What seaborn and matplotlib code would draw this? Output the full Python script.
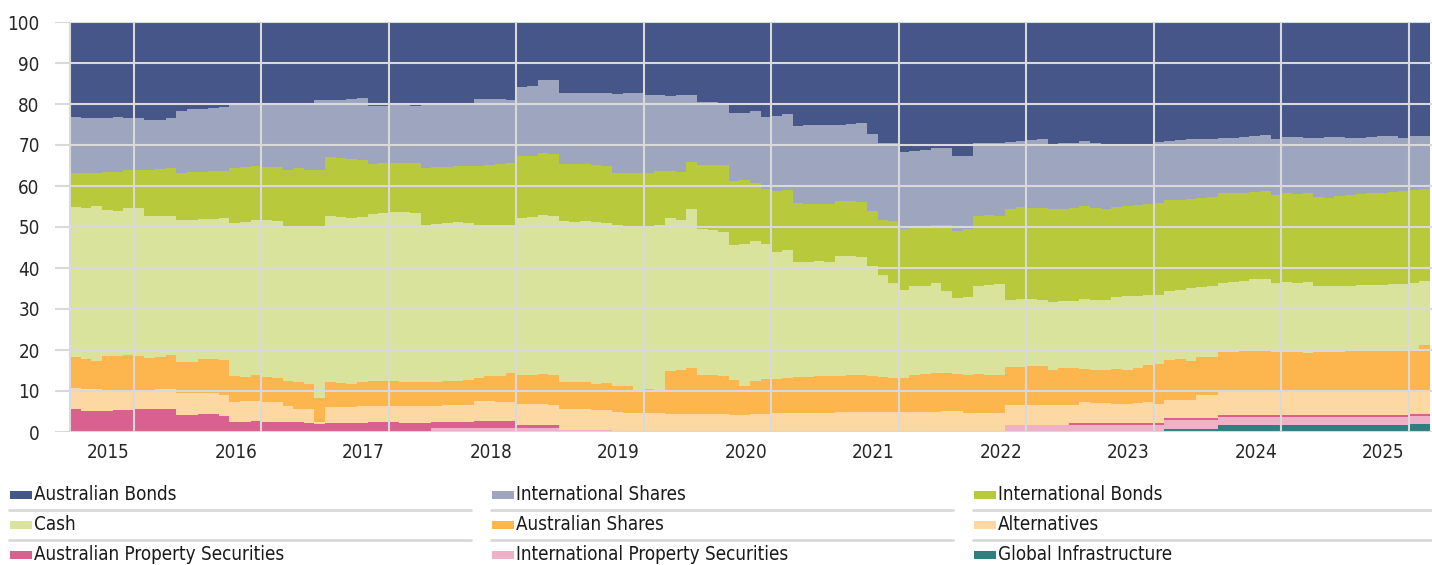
import numpy as np
import pandas as pd
import matplotlib.pyplot as plt
import seaborn as sns
from matplotlib.patches import Rectangle
from matplotlib.lines import Line2D
from matplotlib import font_manager

# Asset classes, top of the stack first (same order as the legend)
assets = [
    "Australian Bonds", "International Shares", "International Bonds",
    "Cash", "Australian Shares", "Alternatives",
    "Australian Property Securities", "International Property Securities",
    "Global Infrastructure",
]
colours = ["#465688", "#9ea5bf", "#b8ca3b", "#d9e39c", "#fdb54e",
           "#fdd8a2", "#da6090", "#eeb1c8", "#307f80"]
years = ["2015", "2016", "2017", "2018", "2019", "2020",
         "2021", "2022", "2023", "2024", "2025"]

# Monthly allocations (%), Jan 2015 onwards
aus_bonds = [
    23.1, 23.4, 23.5, 23.4, 23.2, 23.3, 23.5, 24.0, 23.9, 23.4,
    21.6, 21.3, 21.2, 20.9, 20.7, 20.3, 20.2, 20.1, 20.2, 20.2,
    20.2, 20.2, 20.1, 19.0, 19.1, 19.0, 18.9, 18.6, 20.5, 20.5,
    20.3, 20.2, 20.5, 20.2, 20.3, 20.3, 20.3, 19.7, 18.7, 18.9,
    18.9, 19.0, 15.8, 15.6, 14.2, 14.2, 17.4, 17.4, 17.2, 17.2,
    17.2, 17.5, 17.4, 17.4, 17.7, 17.9, 18.1, 17.9, 17.8, 19.4,
    19.4, 19.7, 22.1, 22.3, 21.6, 23.1, 22.9, 22.5, 25.4, 25.2,
    25.1, 25.2, 25.1, 24.9, 24.7, 27.4, 29.6, 29.6, 31.7, 31.5,
    31.1, 30.8, 30.7, 32.7, 32.7, 29.6, 29.6, 29.5, 29.3, 29.0,
    28.9, 28.6, 29.7, 29.6, 29.5, 29.1, 29.6, 29.7, 29.7, 29.7,
    29.7, 29.7, 29.3, 29.1, 28.8, 28.6, 28.6, 28.6, 28.2, 28.2,
    28.1, 27.7, 27.6, 28.6, 28.1, 28.1, 28.2, 28.2, 28.1, 28.0,
    28.2, 28.2, 28.1, 27.8, 27.7, 28.2, 27.8, 27.7,
]
intl_shares = [
    13.7, 13.5, 13.3, 13.2, 13.4, 12.8, 12.5, 12.0, 11.9, 12.2,
    15.3, 15.3, 15.4, 15.5, 15.6, 15.3, 15.2, 15.1, 15.1, 15.2,
    15.8, 15.5, 16.0, 17.0, 13.9, 14.2, 14.5, 15.1, 14.2, 13.8,
    14.0, 14.1, 14.0, 15.4, 15.1, 15.0, 14.9, 15.5, 16.3, 15.9,
    15.7, 15.3, 16.9, 17.1, 17.7, 18.1, 17.2, 17.2, 17.4, 17.7,
    18.0, 19.3, 19.5, 19.4, 19.1, 18.5, 18.3, 18.7, 16.3, 15.5,
    15.5, 15.2, 16.7, 16.3, 17.6, 17.7, 18.2, 18.5, 18.7, 19.1,
    19.2, 19.3, 18.6, 18.8, 19.2, 18.7, 18.8, 19.0, 18.7, 18.7,
    18.9, 18.8, 18.7, 18.2, 17.9, 17.8, 17.4, 17.9, 16.3, 16.2,
    16.4, 16.8, 16.0, 15.9, 15.8, 15.8, 15.8, 16.0, 15.4, 15.1,
    15.0, 14.6, 14.8, 14.2, 14.6, 14.5, 14.3, 14.2, 13.6, 13.5,
    13.6, 13.8, 13.7, 13.5, 13.7, 13.8, 13.5, 14.5, 14.9, 14.5,
    13.9, 13.7, 13.6, 13.9, 13.7, 13.1, 13.2, 13.0,
]
intl_bonds = [
    8.4, 8.4, 8.1, 9.3, 9.4, 9.2, 9.3, 11.4, 11.6, 11.6,
    11.4, 11.6, 11.4, 11.6, 11.5, 13.4, 13.3, 13.2, 13.0, 13.1,
    14.3, 14.3, 14.1, 13.8, 14.4, 14.3, 14.3, 13.8, 12.1, 12.2,
    12.1, 12.1, 12.0, 13.8, 13.8, 13.8, 13.6, 13.8, 14.6, 14.8,
    15.0, 15.3, 15.1, 14.9, 15.1, 15.1, 14.0, 14.2, 14.0, 13.9,
    13.8, 12.8, 12.9, 13.0, 13.0, 13.2, 11.5, 11.7, 11.6, 15.7,
    15.9, 16.4, 15.6, 15.5, 14.3, 13.3, 15.0, 14.7, 14.5, 14.2,
    14.1, 14.1, 13.4, 13.4, 13.3, 13.3, 13.4, 15.0, 15.0, 14.2,
    14.3, 14.0, 16.3, 16.4, 16.4, 17.0, 17.2, 16.6, 22.1, 22.3,
    22.3, 22.3, 22.6, 22.6, 22.7, 22.7, 22.5, 22.2, 22.0, 22.1,
    22.2, 22.4, 22.4, 22.2, 21.9, 21.7, 21.7, 21.6, 21.8, 21.8,
    21.5, 21.3, 21.4, 21.5, 21.7, 21.7, 21.7, 21.7, 21.4, 21.9,
    22.3, 22.3, 22.4, 22.4, 22.6, 22.5, 22.6, 22.5,
]
cash = [
    36.6, 37.0, 37.9, 35.6, 35.5, 36.0, 36.2, 34.5, 34.4, 34.1,
    34.6, 34.7, 34.3, 34.3, 34.7, 37.4, 37.9, 37.8, 38.4, 38.3,
    37.3, 37.9, 38.2, 41.9, 40.5, 40.5, 40.5, 40.4, 40.8, 41.0,
    41.2, 41.3, 41.3, 38.4, 38.5, 38.5, 38.7, 38.2, 37.2, 36.8,
    36.8, 36.0, 38.4, 38.6, 38.8, 38.8, 39.3, 38.9, 39.1, 39.4,
    39.0, 39.3, 38.9, 39.9, 39.6, 40.1, 37.1, 36.5, 38.8, 35.4,
    35.4, 35.1, 32.8, 34.8, 34.1, 33.0, 30.9, 31.1, 28.1, 28.1,
    28.0, 27.8, 29.3, 29.1, 29.0, 27.0, 24.9, 23.2, 21.4, 21.8,
    21.5, 22.0, 19.9, 18.5, 19.0, 21.4, 22.0, 22.0, 16.4, 16.6,
    16.2, 16.1, 16.5, 16.3, 16.5, 17.0, 16.9, 16.9, 17.5, 17.9,
    17.5, 16.9, 16.8, 17.0, 16.9, 18.0, 17.1, 17.3, 17.0, 17.0,
    17.1, 17.4, 17.4, 16.8, 16.9, 16.9, 17.3, 16.1, 16.1, 16.0,
    15.9, 16.1, 16.2, 16.1, 16.2, 16.4, 16.6, 15.6,
]
aus_shares = [
    7.5, 7.1, 6.6, 8.2, 8.2, 8.4, 8.2, 7.8, 7.8, 8.2,
    7.6, 7.7, 8.3, 8.3, 8.4, 6.3, 5.9, 6.3, 6.1, 6.0,
    6.1, 6.4, 6.1, 5.9, 6.0, 5.9, 5.6, 5.8, 6.0, 6.1,
    6.0, 5.9, 5.8, 5.8, 5.9, 5.9, 6.0, 6.1, 5.7, 6.1,
    6.2, 7.1, 6.9, 6.9, 7.3, 7.1, 6.5, 6.7, 6.8, 6.4,
    6.7, 6.3, 6.6, 5.6, 6.0, 5.7, 10.5, 10.7, 11.0, 9.6,
    9.4, 9.2, 8.6, 6.9, 8.0, 8.5, 8.4, 8.6, 8.7, 8.7,
    8.9, 8.9, 8.8, 9.0, 9.0, 8.8, 8.4, 8.3, 8.3, 8.8,
    9.2, 9.4, 9.2, 9.1, 9.4, 9.6, 9.2, 9.4, 9.2, 9.2,
    9.5, 9.6, 8.7, 9.1, 9.0, 8.2, 8.2, 8.2, 8.5, 8.3,
    8.6, 9.2, 9.8, 9.6, 9.9, 9.3, 9.3, 9.3, 9.7, 9.8,
    9.9, 10.0, 10.1, 9.9, 9.9, 9.8, 9.6, 9.8, 9.8, 9.9,
    10.0, 10.0, 10.0, 10.0, 10.0, 10.0, 9.9, 11.3,
]
alternatives = [
    5.2, 5.4, 5.4, 5.1, 5.0, 4.9, 4.8, 4.8, 4.8, 4.9,
    5.4, 5.2, 4.9, 5.0, 5.1, 4.9, 5.1, 4.9, 4.8, 4.8,
    3.9, 3.3, 3.2, 0.4, 4.0, 4.0, 4.0, 4.0, 3.9, 4.0,
    4.0, 4.1, 4.1, 4.2, 3.9, 4.0, 4.0, 4.2, 4.9, 4.9,
    4.8, 4.7, 5.1, 5.1, 5.1, 4.9, 5.1, 5.1, 5.0, 4.9,
    4.8, 4.8, 4.7, 4.7, 4.6, 4.6, 4.5, 4.5, 4.5, 4.4,
    4.4, 4.4, 4.2, 4.2, 4.4, 4.4, 4.6, 4.6, 4.6, 4.7,
    4.7, 4.7, 4.8, 4.8, 4.8, 4.8, 4.9, 4.9, 4.9, 5.0,
    5.0, 5.0, 5.2, 5.1, 4.6, 4.6, 4.6, 4.6, 5.0, 5.0,
    5.0, 4.9, 4.8, 4.8, 4.3, 5.0, 4.8, 4.8, 4.7, 4.7,
    4.8, 5.0, 4.7, 4.5, 4.5, 4.5, 5.6, 5.6, 5.5, 5.5,
    5.6, 5.6, 5.6, 5.5, 5.5, 5.5, 5.5, 5.5, 5.5, 5.5,
    5.5, 5.5, 5.5, 5.6, 5.6, 5.6, 5.6, 5.6,
]
aus_property = [
    5.5, 5.2, 5.2, 5.2, 5.3, 5.4, 5.5, 5.5, 5.6, 5.6,
    4.1, 4.2, 4.5, 4.4, 4.0, 2.4, 2.4, 2.6, 2.4, 2.4,
    2.4, 2.4, 2.3, 2.0, 2.1, 2.1, 2.2, 2.3, 2.5, 2.4,
    2.4, 2.3, 2.3, 2.2, 1.5, 1.5, 1.5, 1.5, 1.6, 1.6,
    1.6, 1.6, 0.8, 0.8, 0.8, 0.8, 0.0, 0.0, 0.0, 0.0,
    0.0, 0.0, 0.0, 0.0, 0.0, 0.0, 0.0, 0.0, 0.0, 0.0,
    0.0, 0.0, 0.0, 0.0, 0.0, 0.0, 0.0, 0.0, 0.0, 0.0,
    0.0, 0.0, 0.0, 0.0, 0.0, 0.0, 0.0, 0.0, 0.0, 0.0,
    0.0, 0.0, 0.0, 0.0, 0.0, 0.0, 0.0, 0.0, 0.0, 0.0,
    0.0, 0.0, 0.0, 0.0, 0.5, 0.5, 0.5, 0.5, 0.5, 0.5,
    0.5, 0.5, 0.5, 0.4, 0.4, 0.4, 0.4, 0.4, 0.5, 0.5,
    0.5, 0.5, 0.5, 0.5, 0.5, 0.5, 0.5, 0.5, 0.5, 0.5,
    0.5, 0.5, 0.5, 0.5, 0.5, 0.5, 0.5, 0.5,
]
intl_property = [
    0.0, 0.0, 0.0, 0.0, 0.0, 0.0, 0.0, 0.0, 0.0, 0.0,
    0.0, 0.0, 0.0, 0.0, 0.0, 0.0, 0.0, 0.0, 0.0, 0.0,
    0.0, 0.0, 0.0, 0.0, 0.0, 0.0, 0.0, 0.0, 0.0, 0.0,
    0.0, 0.0, 0.0, 0.0, 1.0, 1.0, 1.0, 1.0, 1.0, 1.0,
    1.0, 1.0, 1.0, 1.0, 1.0, 1.0, 0.5, 0.5, 0.5, 0.5,
    0.5, 0.0, 0.0, 0.0, 0.0, 0.0, 0.0, 0.0, 0.0, 0.0,
    0.0, 0.0, 0.0, 0.0, 0.0, 0.0, 0.0, 0.0, 0.0, 0.0,
    0.0, 0.0, 0.0, 0.0, 0.0, 0.0, 0.0, 0.0, 0.0, 0.0,
    0.0, 0.0, 0.0, 0.0, 0.0, 0.0, 0.0, 0.0, 1.7, 1.7,
    1.7, 1.7, 1.7, 1.7, 1.7, 1.7, 1.7, 1.7, 1.7, 1.7,
    1.7, 1.7, 1.7, 2.2, 2.2, 2.2, 2.2, 2.2, 1.9, 1.9,
    1.9, 1.9, 1.9, 1.9, 1.9, 1.9, 1.9, 1.9, 1.9, 1.9,
    1.9, 1.9, 1.9, 1.9, 1.9, 1.9, 1.8, 1.8,
]
global_infra = [
    0.0, 0.0, 0.0, 0.0, 0.0, 0.0, 0.0, 0.0, 0.0, 0.0,
    0.0, 0.0, 0.0, 0.0, 0.0, 0.0, 0.0, 0.0, 0.0, 0.0,
    0.0, 0.0, 0.0, 0.0, 0.0, 0.0, 0.0, 0.0, 0.0, 0.0,
    0.0, 0.0, 0.0, 0.0, 0.0, 0.0, 0.0, 0.0, 0.0, 0.0,
    0.0, 0.0, 0.0, 0.0, 0.0, 0.0, 0.0, 0.0, 0.0, 0.0,
    0.0, 0.0, 0.0, 0.0, 0.0, 0.0, 0.0, 0.0, 0.0, 0.0,
    0.0, 0.0, 0.0, 0.0, 0.0, 0.0, 0.0, 0.0, 0.0, 0.0,
    0.0, 0.0, 0.0, 0.0, 0.0, 0.0, 0.0, 0.0, 0.0, 0.0,
    0.0, 0.0, 0.0, 0.0, 0.0, 0.0, 0.0, 0.0, 0.0, 0.0,
    0.0, 0.0, 0.0, 0.0, 0.0, 0.0, 0.0, 0.0, 0.0, 0.0,
    0.0, 0.0, 0.0, 0.8, 0.8, 0.8, 0.8, 0.8, 1.8, 1.8,
    1.8, 1.8, 1.8, 1.8, 1.8, 1.8, 1.8, 1.8, 1.8, 1.8,
    1.8, 1.8, 1.8, 1.8, 1.8, 1.8, 2.0, 2.0,
]

series = [aus_bonds, intl_shares, intl_bonds, cash, aus_shares,
          alternatives, aus_property, intl_property, global_infra]

W, H = 1432, 565
GRID = "#d9d9d9"

frames = []
for name, vals in zip(assets, series):
    frames.append(pd.DataFrame({"month": np.arange(len(vals)),
                                "asset": name, "weight": vals}))
df = pd.concat(frames, ignore_index=True)

sns.set_style("white")

# a condensed face is closest to the original; take one if it is installed
names = {f.name for f in font_manager.fontManager.ttflist}
narrow = [f for f in font_manager.fontManager.ttflist
          if f.stretch in ("condensed", "semi-condensed", 600, 500)]
if "Liberation Sans Narrow" in names:
    plt.rcParams["font.family"] = ["Liberation Sans Narrow", "DejaVu Sans"]
    fsize = 14.5
elif any(f.name == "DejaVu Sans" for f in narrow):
    plt.rcParams["font.family"] = ["DejaVu Sans"]
    plt.rcParams["font.stretch"] = "condensed"
    fsize = 13.5
else:
    plt.rcParams["font.family"] = ["Liberation Sans", "DejaVu Sans"]
    fsize = 13.5

fig = plt.figure(figsize=(W / 100, H / 100), dpi=100)
ax = fig.add_axes([55 / W, 133 / H, (W - 55) / W, 410 / H])

sns.histplot(
    data=df, x="month", weights="weight", hue="asset", hue_order=assets,
    palette=dict(zip(assets, colours)), multiple="stack", discrete=True,
    element="step", fill=True, alpha=1, linewidth=0, legend=False, ax=ax
)

month_px = 127.5 / 12
ax.set_xlim(-0.5 - 15 / month_px, -0.5 + (W - 70) / month_px)
ax.set_ylim(0, 100)
ax.set_yticks(range(0, 101, 10))
ax.set_xticks([-0.5] + [5.5 + 12 * k for k in range(len(years))])
ax.set_xticklabels([])
ax.set_xticks([3.1 + 12 * k for k in range(len(years))], minor=True)
ax.set_xticklabels(years, minor=True)
ax.tick_params(axis="x", which="major", length=9, width=1.5, color=GRID)
ax.tick_params(axis="x", which="minor", length=0, pad=8, labelsize=fsize)
ax.tick_params(axis="y", length=0, pad=11, labelsize=fsize)
ax.grid(True, which="major", color=GRID, linewidth=1.5)
ax.set_axisbelow(False)
ax.set_xlabel("")
ax.set_ylabel("")
sns.despine(ax=ax, left=True, bottom=True)

# legend: three columns with grey rules between the rows
col_x = [10, 492, 974]
row_y = [495, 525, 555]
for n, (name, col) in enumerate(zip(assets, colours)):
    r, c = divmod(n, 3)
    x0, y0 = col_x[c], row_y[r]
    fig.add_artist(Rectangle((x0 / W, 1 - (y0 + 4) / H), 22 / W, 8 / H,
                             facecolor=col, edgecolor="none",
                             transform=fig.transFigure))
    fig.text((x0 + 24) / W, 1 - y0 / H, name, ha="left", va="center",
             fontsize=fsize, color="#1a1a1a")
for y in (510, 540):
    for x0 in col_x:
        fig.add_artist(Line2D([(x0 - 1) / W, (x0 + 461) / W],
                              [1 - y / H, 1 - y / H], color=GRID,
                              linewidth=2, transform=fig.transFigure))

fig.savefig("out.png", dpi=100)
